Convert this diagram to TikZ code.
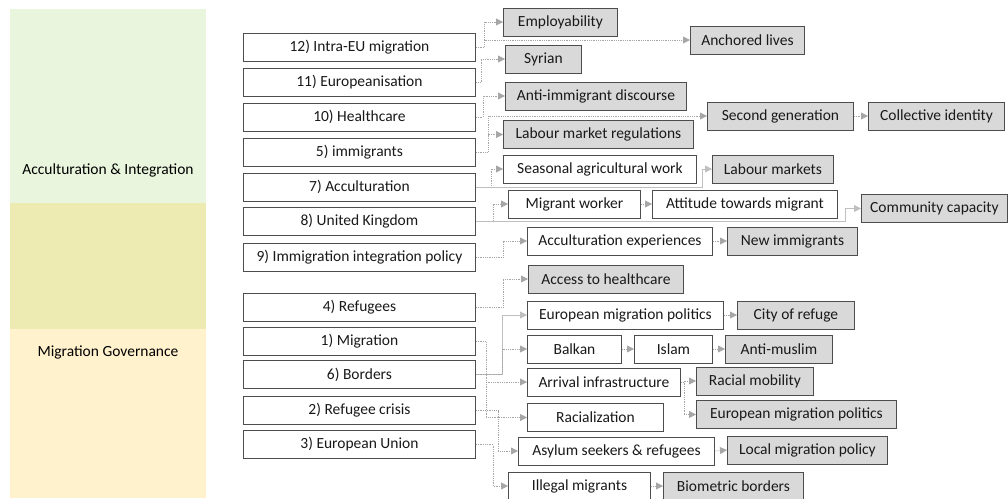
\documentclass[tikz,border=0pt]{standalone}
\usepackage{fontspec}
\setmainfont{Carlito}
\usetikzlibrary{arrows.meta}
\definecolor{bandgreen}{HTML}{E9F5DC}
\definecolor{bandolive}{HTML}{EEEBB2}
\definecolor{bandyellow}{HTML}{FFF2CD}
\definecolor{boxline}{HTML}{4D4D4D}
\definecolor{boxgrey}{HTML}{D9D9D9}
\definecolor{linkgrey}{HTML}{A6A6A6}
\newcommand\boxfont{\fontsize{15.5}{18}\selectfont}
\tikzset{
  box/.style={draw=boxline, line width=0.9pt, fill=white, minimum height=28pt,
    inner xsep=3pt, anchor=west, font=\boxfont, text=black!90},
  greybox/.style={box, fill=boxgrey},
  link/.style={draw=linkgrey, line width=0.8pt, densely dotted,
    -{Triangle[length=7pt,width=7pt]}},
  solidlink/.style={link, solid, draw=black!25},
}
\begin{document}
\begin{tikzpicture}[x=1pt,y=-1pt]
\useasboundingbox (0,0) rectangle (1008,498);
% theme bands
\fill[bandgreen] (10,9) rectangle (206,203);
\fill[bandolive] (10,203) rectangle (206,329);
\fill[bandyellow] (10,329) rectangle (206,498);
\node[font=\boxfont] (acc) at (108,170) {Acculturation \& Integration};
\node[font=\boxfont] (gov) at (108,352) {Migration Governance};
% clusters
\node[box,minimum width=232pt] (c12) at (243,47.5) {12) Intra-EU migration};
\node[box,minimum width=232pt] (c11) at (243,82.5) {11) Europeanisation};
\node[box,minimum width=232pt] (c10) at (243,117) {10) Healthcare};
\node[box,minimum width=232pt] (c5) at (243,152) {5) immigrants};
\node[box,minimum width=232pt] (c7) at (243,187) {7) Acculturation};
\node[box,minimum width=232pt] (c8) at (243,221.5) {8) United Kingdom};
\node[box,minimum width=232pt] (c9) at (243,257.5) {9) Immigration integration policy};
\node[box,minimum width=232pt] (c4) at (243,307.5) {4) Refugees};
\node[box,minimum width=232pt] (c1) at (243,341.5) {1) Migration};
\node[box,minimum width=232pt] (c6) at (243,374.5) {6) Borders};
\node[box,minimum width=232pt] (c2) at (243,410.5) {2) Refugee crisis};
\node[box,minimum width=232pt] (c3) at (243,444.5) {3) European Union};
% keywords
\node[greybox,minimum width=114pt] (emp) at (503,22) {Employability};
\node[greybox,minimum width=114pt] (anch) at (690,40) {Anchored lives};
\node[greybox,minimum width=76pt] (syr) at (505,59) {Syrian};
\node[greybox,minimum width=181pt] (anti) at (505,96) {Anti-immigrant discourse};
\node[greybox,minimum width=146pt] (secgen) at (707,116) {Second generation};
\node[greybox,minimum width=136pt] (coll) at (868,116) {Collective identity};
\node[greybox,minimum width=190pt] (labreg) at (503,134.5) {Labour market regulations};
\node[box,minimum width=193pt] (seas) at (503,169) {Seasonal agricultural work};
\node[greybox,minimum width=121pt] (labmk) at (712,169) {Labour markets};
\node[box,minimum width=132pt] (migw) at (508,204) {Migrant worker};
\node[box,minimum width=185pt] (att) at (652,204) {Attitude towards migrant};
\node[greybox,minimum width=146pt] (comm) at (861,208.5) {Community capacity};
\node[box,minimum width=185pt] (accexp) at (527,241) {Acculturation experiences};
\node[greybox,minimum width=130pt] (newimm) at (727,241) {New immigrants};
\node[greybox,minimum width=155pt] (acchc) at (528,279) {Access to healthcare};
\node[box,minimum width=196pt] (eump) at (527,315) {European migration politics};
\node[greybox,minimum width=117pt] (city) at (737,315) {City of refuge};
\node[box,minimum width=94pt] (balk) at (527,349) {Balkan};
\node[box,minimum width=78pt] (islam) at (634,349) {Islam};
\node[greybox,minimum width=107pt] (antim) at (725,349) {Anti-muslim};
\node[box,minimum width=153pt] (arr) at (527,382) {Arrival infrastructure};
\node[greybox,minimum width=117pt] (racmob) at (696,381) {Racial mobility};
\node[box,minimum width=136pt] (racz) at (527,417.5) {Racialization};
\node[greybox,minimum width=200pt] (eump2) at (696,414.5) {European migration politics};
\node[box,minimum width=196pt] (asyl) at (518,451) {Asylum seekers \& refugees};
\node[greybox,minimum width=160pt] (local) at (727,450) {Local migration policy};
\node[box,minimum width=142pt] (illeg) at (508,486) {Illegal migrants};
\node[greybox,minimum width=140pt] (biom) at (663,486) {Biometric borders};
% cluster links
\draw[link] (c12.east) -- ++(8,0) |- (emp.west);
\draw[link] (c12.east) -- ++(8,0) |- (anch.west);
\draw[link] (c11.east) -- ++(5,0) |- (syr.west);
\draw[link] (c10.east) -- ++(7,0) |- (anti.west);
\draw[link] (c5.east) -- ++(12,0) |- (labreg.west);
\draw[link] (c5.east) -- ++(12,0) |- (secgen.west);
\draw[link] (c7.east) -- ++(15,0) |- (seas.west);
\draw[solidlink] (c7.east) -| ([xshift=-10pt]labmk.west) -- (labmk.west);
\draw[link] (c8.east) -- ++(17,0) |- (migw.west);
\draw[solidlink] (c8.east) -| ([xshift=-16pt]comm.west) -- (comm.west);
\draw[link] (c9.east) -- ++(27,0) |- (accexp.west);
\draw[link] (c4.east) -- ++(27,0) |- (acchc.west);
\draw[solidlink] (c6.east) -- ++(26,0) |- (eump.west);
\draw[link] (c6.east) -- ++(26,0) |- (balk.west);
\draw[link] (c1.east) -- ++(10,0) |- (arr.west);
\draw[link] (c1.east) -- ++(10,0) |- (racz.west);
\draw[link] (c2.east) -- ++(22,0) |- (asyl.west);
\draw[link] (c3.east) -- ++(17,0) |- (illeg.west);
% keyword links
\draw[link] (secgen.east) -- (coll.west);
\draw[link] (migw.east) -- (att.west);
\draw[link] (accexp.east) -- (newimm.west);
\draw[link] (eump.east) -- (city.west);
\draw[link] (balk.east) -- (islam.west);
\draw[link] (islam.east) -- (antim.west);
\draw[link] (arr.east) -- ++(3,0) |- (racmob.west);
\draw[link] (arr.east) -- ++(3,0) |- (eump2.west);
\draw[link] (asyl.east) -- (local.west);
\draw[link] (illeg.east) -- (biom.west);
\end{tikzpicture}
\end{document}
